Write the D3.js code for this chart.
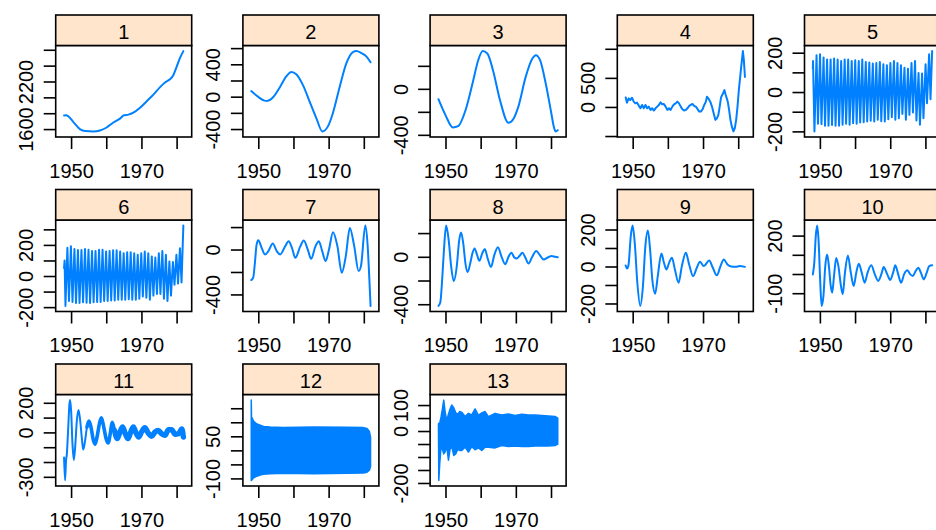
<!DOCTYPE html>
<html>
<head>
<meta charset="utf-8">
<script src="https://cdn.jsdelivr.net/npm/d3@7"></script>
<style>
  body { margin: 0; background: #fff; }
  svg { display: block; }
</style>
</head>
<body>
<svg id="chart" width="936" height="530"></svg>
<script>
// Monthly series, January 1948 to December 1981, split into 13 components.
const firstTime = 1948;
const lastTime = 1981 + 11 / 12;

const panelNames = ["1", "2", "3", "4", "5", "6", "7", "8", "9", "10", "11", "12", "13"];

const xTickValues = [1950, 1960, 1970, 1980];
const xTickText = ["1950", "", "1970", ""];

// y tick values and the labels that are printed for each component
const yTickValues = [
  [1600, 1800, 2000, 2200, 2400, 2600],
  [-400, -200, 0, 200, 400, 600],
  [-400, -200, 0, 200],
  [-500, 0, 500, 1000],
  [-200, -100, 0, 100, 200],
  [-200, -100, 0, 100, 200, 300],
  [-400, -200, 0, 200],
  [-400, -200, 0, 200],
  [-200, -100, 0, 100, 200],
  [-100, 0, 100, 200],
  [-300, -200, -100, 0, 100, 200],
  [-100, -50, 0, 50, 100, 150],
  [-200, -150, -100, -50, 0, 50, 100]
];
const yTickText = [
  [1600, 2200],
  [-400, 0, 400],
  [-400, 0],
  [0, 500],
  [-200, 0, 200],
  [-200, 0, 200],
  [-400, 0],
  [-400, 0],
  [-200, 0, 200],
  [-100, 200],
  [-300, 0, 200],
  [-100, 50],
  [-200, 0, 100]
];

// component 1: trend  [time, value]
const comp1 = [[1948.0,1772],[1948.6,1775],[1949.2,1762],[1950.6,1691],[1952.5,1600],[1954.0,1575],[1956.3,1571],[1958.2,1583],[1960.1,1620],[1962.0,1683],[1963.9,1732],[1965.0,1774],[1966.3,1782],[1967.7,1806],[1969.6,1868],[1971.5,1951],[1973.4,2034],[1975.3,2129],[1976.7,2187],[1978.1,2228],[1979.1,2282],[1980.0,2385],[1981.0,2500],[1981.92,2583]];

const comp2 = [[1948.0,69],[1949.9,0],[1951.8,-49],[1952.5,-52],[1954.2,-8],[1956.1,114],[1958.0,253],[1959.4,306],[1960.8,278],[1962.7,143],[1964.6,-61],[1966.5,-265],[1968.2,-429],[1969.8,-367],[1971.2,-204],[1973.1,114],[1975.0,408],[1976.9,551],[1977.9,563],[1979.3,539],[1980.7,498],[1981.92,425]];

const comp3 = [[1948.0,-90],[1950.0,-229],[1952.1,-336],[1953.6,-325],[1955.7,-186],[1957.8,61],[1959.3,249],[1960.6,328],[1961.9,307],[1963.5,162],[1965.5,-99],[1967.9,-296],[1969.3,-262],[1970.7,-157],[1972.8,104],[1974.7,264],[1975.7,293],[1976.9,249],[1978.5,46],[1980.1,-214],[1980.8,-330],[1981.3,-370],[1981.92,-360]];

const comp4 = [[1948.0,165],[1948.38,74],[1948.85,148],[1949.33,119],[1949.81,159],[1950.29,91],[1950.76,62],[1951.24,74],[1951.72,23],[1952.20,-23],[1952.67,34],[1953.15,-23],[1953.63,34],[1954.11,-23],[1954.58,6],[1955.06,-51],[1955.54,-23],[1956.02,-62],[1956.49,-23],[1956.97,6],[1957.45,34],[1957.93,80],[1958.40,45],[1958.88,51],[1959.36,6],[1959.84,-51],[1960.32,-23],[1960.79,-51],[1961.27,6],[1961.75,45],[1962.23,62],[1962.70,91],[1963.18,62],[1963.66,6],[1964.14,-40],[1964.61,-62],[1965.09,-51],[1965.57,-23],[1966.05,17],[1966.52,34],[1967.00,51],[1967.48,17],[1967.96,6],[1968.43,-34],[1968.91,-80],[1969.39,-80],[1969.87,-40],[1970.34,34],[1970.82,91],[1971.11,176],[1971.49,148],[1972.06,91],[1972.54,6],[1973.02,-108],[1973.50,-222],[1973.97,-193],[1974.36,-136],[1974.74,6],[1975.12,165],[1975.60,222],[1976.07,290],[1976.46,205],[1977.03,91],[1977.41,-51],[1977.79,-222],[1978.18,-335],[1978.65,-420],[1979.04,-364],[1979.42,-222],[1979.80,6],[1980.18,290],[1980.56,517],[1980.95,744],[1981.33,960],[1981.61,801],[1981.92,517]];

// components 5 and 6: yearly cycles, one crest and one trough per year
const cycleYears = d3.range(1948, 1982);
const comp5Start = 119;
const comp5Crest = [158,187,192,175,166,166,170,165,158,166,165,158,161,158,165,153,150,145,148,153,141,136,148,158,148,136,124,119,148,158,97,94,141,192];
const comp5Trough = [-200,-161,-163,-171,-171,-168,-171,-171,-166,-161,-166,-158,-161,-155,-153,-150,-146,-150,-141,-148,-150,-138,-128,-141,-133,-111,-141,-116,-104,-145,-166,-133,-57,-37];
const comp5End = 208;

const comp6Start = [52, 100];
const comp6Trough = [-192,-161,-167,-174,-174,-169,-172,-174,-169,-167,-167,-161,-161,-157,-157,-153,-153,-153,-149,-153,-153,-146,-132,-140,-153,-126,-115,-115,-146,-161,-126,-56,-48,-42];
const comp6Crest = [182,192,174,167,167,174,169,161,161,169,169,157,161,165,165,157,146,153,153,146,136,146,157,146,126,119,146,161,136,94,90,136,178];
const comp6End = 324;

const comp7 = [[1948.0,-272],[1948.56,-251],[1949.04,-118],[1949.52,44],[1950.0,83],[1950.96,15],[1951.91,-44],[1952.87,-15],[1954.11,53],[1955.26,-15],[1956.22,-44],[1957.66,30],[1958.61,74],[1959.57,15],[1960.53,-74],[1961.96,30],[1962.92,80],[1964.07,0],[1965.02,-83],[1966.27,30],[1967.22,74],[1968.18,-15],[1969.14,-103],[1970.10,0],[1971.24,154],[1972.49,30],[1973.73,-207],[1974.88,-59],[1976.03,192],[1977.27,30],[1978.52,-192],[1979.19,-148],[1980.43,213],[1981.1,30],[1981.58,-266],[1981.92,-502]];

const comp8 = [[1948.0,-414],[1948.52,-386],[1949.04,-200],[1949.56,57],[1950.18,263],[1950.90,143],[1951.63,-86],[1952.36,-206],[1953.19,-86],[1953.91,143],[1954.43,206],[1955.05,114],[1955.68,-57],[1956.30,-129],[1957.02,-57],[1957.65,29],[1958.27,71],[1959.00,14],[1959.62,-34],[1960.45,29],[1961.17,66],[1962.00,-14],[1962.94,-86],[1963.87,14],[1964.91,80],[1965.95,0],[1966.98,-63],[1967.92,0],[1968.75,34],[1969.58,-6],[1970.20,-14],[1971.03,6],[1971.86,34],[1972.69,-6],[1973.62,-57],[1974.66,0],[1975.80,49],[1976.84,14],[1977.88,-23],[1979.12,-6],[1980.16,6],[1981.20,0],[1981.92,-3]];

const comp9 = [[1948.0,5],[1948.41,-11],[1948.83,11],[1949.45,163],[1949.97,221],[1950.59,127],[1951.32,-88],[1952.15,-213],[1952.88,-115],[1953.60,109],[1954.33,194],[1954.95,91],[1955.57,-70],[1956.40,-147],[1957.13,-52],[1958.17,70],[1958.89,20],[1959.62,-16],[1960.34,20],[1961.17,47],[1962.00,-16],[1963.04,-88],[1963.98,2],[1965.12,74],[1966.05,11],[1967.19,-52],[1968.23,-7],[1969.16,25],[1970.20,2],[1971.76,32],[1972.79,-7],[1973.93,-48],[1974.97,2],[1975.90,38],[1976.94,11],[1977.98,0],[1979.33,-2],[1980.37,2],[1981.92,-2]];

const comp10 = [[1948.0,-2],[1948.41,59],[1948.83,197],[1949.24,252],[1949.66,162],[1950.07,-28],[1950.49,-166],[1951.01,-114],[1951.53,41],[1952.05,102],[1952.56,41],[1953.08,-62],[1953.50,-97],[1954.02,-10],[1954.64,84],[1955.26,41],[1955.99,-62],[1956.51,-105],[1957.13,7],[1957.96,97],[1958.79,7],[1959.62,-62],[1960.34,7],[1961.07,53],[1961.90,7],[1962.73,-45],[1963.56,7],[1964.60,45],[1965.63,-2],[1966.57,-36],[1967.61,7],[1968.12,36],[1969.16,-2],[1969.99,-31],[1970.82,7],[1971.44,45],[1972.27,-2],[1973.10,-45],[1973.93,-2],[1974.87,19],[1975.70,-2],[1976.42,-10],[1977.25,16],[1977.98,33],[1978.71,7],[1979.54,-28],[1980.37,7],[1981.09,41],[1981.92,45]];

const comp11 = [[1948.0,-169],[1948.29,-324],[1948.57,-187],[1948.77,-153],[1949.15,13],[1949.53,191],[1949.72,218],[1950.01,147],[1950.39,-76],[1950.78,-187],[1951.16,-98],[1951.64,80],[1952.11,151],[1952.59,80],[1953.07,-42],[1953.45,-116],[1953.93,-64],[1954.51,36],[1955.08,76],[1955.66,36],[1956.23,-42],[1956.80,-80],[1957.38,-31],[1958.05,58],[1958.62,98],[1959.29,36],[1959.96,-42],[1960.54,-71],[1961.21,2],[1961.68,69],[1962.35,13],[1963.12,-42],[1963.89,2],[1964.65,36],[1965.42,-9],[1966.18,-42],[1966.95,2],[1967.71,36],[1968.48,-4],[1969.24,-31],[1970.01,2],[1970.97,31],[1971.92,-4],[1972.88,-27],[1973.84,2],[1974.79,13],[1975.75,-9],[1976.71,-20],[1977.67,18],[1978.62,18],[1979.58,-13],[1980.54,-9],[1981.49,24],[1981.92,-31]];
// spread of the fast ripple riding on component 11, by period start
const comp11RippleFrom = [1954.5, 1962.0];

// components 12 and 13 swing every month or two, so only their
// upper and lower reach over time is kept
const comp12Time  = [1948.0,1948.08,1948.27,1948.65,1949.6,1950.55,1951.5,1953.39,1957.18,1965.7,1975.2,1979.9,1980.9,1981.6,1981.92];
const comp12Upper = [179,118,115,104,94,90,85,83,81,83,82,81,78,67,46];
const comp12Lower = [-107,-107,-104,-98,-92,-88,-85,-83,-82,-83,-82,-81,-78,-71,-58];

const comp13Time  = [1948.0,1948.1,1948.37,1948.75,1949.13,1949.51,1949.89,1950.36,1950.84,1951.31,1951.78,1952.35,1952.92,1953.49,1954.06,1954.63,1955.58,1956.52,1957.47,1958.42,1959.37,1960.31,1961.26,1962.21,1964.10,1966.00,1967.90,1969.79,1971.69,1973.58,1975.48,1977.38,1979.27,1981.16,1981.92];
const comp13Upper = [25,30,30,55,85,119,75,40,65,85,100,90,70,65,75,72,56,68,62,85,60,70,75,55,68,62,66,60,65,62,62,60,58,56,50];
const comp13Lower = [25,-190,-125,-60,-70,-88,-80,-60,-112,-70,-60,-94,-88,-70,-75,-75,-62,-81,-60,-72,-65,-75,-62,-62,-65,-56,-60,-58,-60,-60,-58,-58,-58,-56,-50];

// ---- build the two yearly-cycle series ----
const comp5 = [[firstTime, comp5Start]];
cycleYears.forEach((yr, i) => {
  comp5.push([yr + 0.05, comp5Crest[i]]);
  comp5.push([yr + 0.45, comp5Trough[i]]);
});
comp5.push([lastTime, comp5End]);

const comp6 = [[firstTime, comp6Start[0]], [firstTime + 0.15, comp6Start[1]]];
cycleYears.forEach((yr, i) => {
  comp6.push([yr + 0.4, comp6Trough[i]]);
  if (i < comp6Crest.length) comp6.push([yr + 0.95, comp6Crest[i]]);
});
comp6.push([lastTime, comp6End]);

const bandOf = (t, up, lo) => t.map((d, i) => [d, up[i], lo[i]]);

const panels = [
  { kind: "smooth", data: comp1 },
  { kind: "smooth", data: comp2 },
  { kind: "smooth", data: comp3 },
  { kind: "jagged", data: comp4 },
  { kind: "jagged", data: comp5 },
  { kind: "jagged", data: comp6 },
  { kind: "smooth", data: comp7 },
  { kind: "smooth", data: comp8 },
  { kind: "smooth", data: comp9 },
  { kind: "smooth", data: comp10 },
  { kind: "ripple", data: comp11 },
  { kind: "band", data: bandOf(comp12Time, comp12Upper, comp12Lower) },
  { kind: "band", data: bandOf(comp13Time, comp13Upper, comp13Lower) }
];

// ---- layout ----
const svg = d3.select("#chart");
const fontFamily = "'Liberation Sans', Arial, Helvetica, sans-serif";
const lineColor = "#0080ff";
const W = 136, H = 91.5, stripH = 30.5;
const colLeft = [55.7, 242.9, 430.1, 617.3, 804.5];
const rowTop = [15, 189.5, 364];
const span = lastTime - firstTime;
const x = d3.scaleLinear()
  .domain([firstTime - 0.07 * span, lastTime + 0.07 * span])
  .range([0, W]);

panels.forEach((p, i) => {
  const col = i % 5, row = Math.floor(i / 5);
  const left = colLeft[col];
  const top = rowTop[row] + stripH;

  const vals = p.kind === "band"
    ? p.data.flatMap(d => [d[1], d[2]])
    : p.data.map(d => d[1]);
  const [lo, hi] = d3.extent(vals);
  const pad = 0.07 * (hi - lo);
  const y = d3.scaleLinear().domain([lo - pad, hi + pad]).range([H, 0]);

  const g = svg.append("g").attr("transform", `translate(${left},${top})`);

  const clipId = "clip" + i;
  g.append("clipPath").attr("id", clipId)
    .append("rect").attr("width", W).attr("height", H);
  const plot = g.append("g").attr("clip-path", `url(#${clipId})`);

  if (p.kind === "band") {
    const area = d3.area()
      .x(d => x(d[0])).y0(d => y(d[2])).y1(d => y(d[1]))
      .curve(d3.curveLinear);
    plot.append("path").datum(p.data)
      .attr("d", area)
      .attr("fill", lineColor)
      .attr("stroke", lineColor)
      .attr("stroke-width", 1.5)
      .attr("stroke-linejoin", "round");
  } else {
    const line = d3.line()
      .x(d => x(d[0])).y(d => y(d[1]))
      .curve(p.kind === "jagged" ? d3.curveLinear : d3.curveMonotoneX);
    plot.append("path").datum(p.data)
      .attr("d", line)
      .attr("fill", "none")
      .attr("stroke", lineColor)
      .attr("stroke-width", 2)
      .attr("stroke-linejoin", "round")
      .attr("stroke-linecap", "round");
    if (p.kind === "ripple") {
      comp11RippleFrom.forEach((t0, k) => {
        plot.append("path").datum(p.data.filter(d => d[0] >= t0))
          .attr("d", line)
          .attr("fill", "none")
          .attr("stroke", lineColor)
          .attr("stroke-width", k === 0 ? 3.6 : 5.4)
          .attr("stroke-linejoin", "round")
          .attr("stroke-linecap", "round");
      });
    }
  }

  // panel frame
  g.append("rect")
    .attr("width", W).attr("height", H)
    .attr("fill", "none").attr("stroke", "#000").attr("stroke-width", 1.6);

  // y axis
  const dom = y.domain();
  const ticks = yTickValues[i].filter(v => v >= dom[0] && v <= dom[1]);
  const shown = yTickText[i];
  const yAxis = d3.axisLeft(y)
    .tickValues(ticks)
    .tickSize(12)
    .tickFormat(v => shown.includes(v) ? String(v) : "");
  const ya = g.append("g").call(yAxis)
    .attr("font-family", fontFamily).attr("font-size", 20);
  ya.select(".domain").remove();
  ya.selectAll(".tick line").attr("stroke", "#000").attr("stroke-width", 1.6);
  ya.selectAll(".tick text")
    .attr("fill", "#000")
    .attr("transform", "rotate(-90)")
    .attr("x", 0).attr("y", -22.5).attr("dy", 0)
    .attr("text-anchor", "middle");

  // x axis
  const xAxis = d3.axisBottom(x)
    .tickValues(xTickValues)
    .tickSize(12)
    .tickFormat((v, k) => xTickText[k]);
  const xa = g.append("g").attr("transform", `translate(0,${H})`).call(xAxis)
    .attr("font-family", fontFamily).attr("font-size", 20);
  xa.select(".domain").remove();
  xa.selectAll(".tick line").attr("stroke", "#000").attr("stroke-width", 1.6);
  xa.selectAll(".tick text").attr("fill", "#000").attr("y", 26.5).attr("dy", "0.71em");

  // strip with the component number
  const s = svg.append("g").attr("transform", `translate(${left},${rowTop[row]})`);
  s.append("rect")
    .attr("width", W).attr("height", stripH)
    .attr("fill", "#ffe5cc").attr("stroke", "#000").attr("stroke-width", 1.6);
  s.append("text")
    .attr("x", W / 2).attr("y", 24)
    .attr("text-anchor", "middle")
    .attr("font-family", fontFamily).attr("font-size", 20)
    .attr("fill", "#000")
    .text(panelNames[i]);
});
</script>
</body>
</html>
